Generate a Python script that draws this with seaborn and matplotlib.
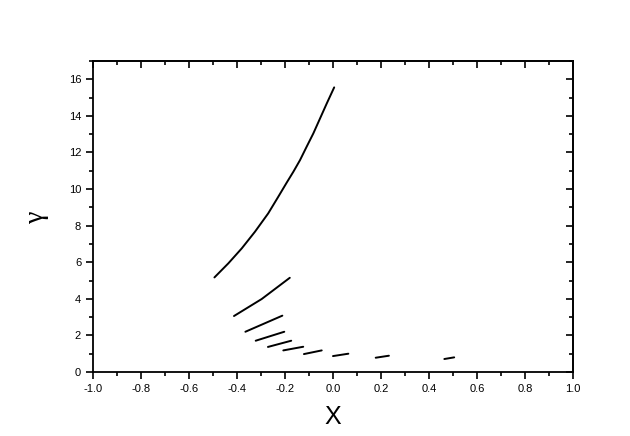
import matplotlib
matplotlib.use("Agg")
import matplotlib.pyplot as plt
import seaborn as sns
import pandas as pd
from matplotlib.ticker import MultipleLocator

sns.set_theme(style="white")
plt.rcParams['font.family'] = ['Liberation Sans', 'DejaVu Sans']

# Each segment: x values and gamma values
seg_x = [
    [-0.494, -0.436, -0.38, -0.325, -0.27, -0.228, -0.193, -0.165, -0.1375,
     -0.11, -0.082, -0.054, -0.026, 0.005],
    [-0.4125, -0.297, -0.18],
    [-0.365, -0.211],
    [-0.322, -0.203],
    [-0.271, -0.174],
    [-0.207, -0.124],
    [-0.121, -0.047],
    [0.0, 0.064],
    [0.178, 0.233],
    [0.464, 0.505],
]
seg_y = [
    [5.17, 5.94, 6.76, 7.67, 8.67, 9.58, 10.35, 10.95, 11.58,
     12.31, 13.04, 13.86, 14.68, 15.56],
    [3.06, 3.99, 5.15],
    [2.2, 3.08],
    [1.71, 2.2],
    [1.37, 1.71],
    [1.18, 1.38],
    [0.98, 1.18],
    [0.87, 1.0],
    [0.78, 0.89],
    [0.71, 0.80],
]

rows = []
for i, (xs, ys) in enumerate(zip(seg_x, seg_y)):
    for j, (x, y) in enumerate(zip(xs, ys)):
        rows.append({"seg": i, "order": j, "x": x, "y": y})
df = pd.DataFrame(rows)

fig = plt.figure(figsize=(6.3, 4.36), dpi=100)
ax = fig.add_axes([0.1476, 0.1468, 0.7619, 0.7132])

sns.lineplot(data=df, x="x", y="y", units="seg", estimator=None, sort=False,
             color="black", linewidth=1.4, ax=ax, legend=False)

ax.set_xlim(-1.0, 1.0)
ax.set_ylim(0, 17)
ax.xaxis.set_minor_locator(MultipleLocator(0.1))
ax.yaxis.set_minor_locator(MultipleLocator(1))
ax.set_xticks([-1.0, -0.8, -0.6, -0.4, -0.2, 0.0, 0.2, 0.4, 0.6, 0.8, 1.0])
ax.set_xticklabels(["-1.0", "-0.8", "-0.6", "-0.4", "-0.2", "0.0", "0.2", "0.4", "0.6", "0.8", "1.0"])
ax.set_yticks([0, 2, 4, 6, 8, 10, 12, 14, 16])

for s in ax.spines.values():
    s.set_linewidth(1.3)
    s.set_color("black")

ax.tick_params(which="both", direction="out", bottom=True, left=True, top=False, right=False,
               colors="black", labelcolor="black", labelsize=8, width=1.2)
ax.tick_params(which="major", length=5)
ax.tick_params(which="minor", length=3)

# mirrored inward ticks on top and right
axt = ax.secondary_xaxis("top")
axt.xaxis.set_major_locator(MultipleLocator(0.2))
axt.xaxis.set_minor_locator(MultipleLocator(0.1))
axt.tick_params(which="both", direction="in", labeltop=False, width=1.2, colors="black")
axt.tick_params(which="major", length=5)
axt.tick_params(which="minor", length=3)
axr = ax.secondary_yaxis("right")
axr.yaxis.set_major_locator(MultipleLocator(2))
axr.yaxis.set_minor_locator(MultipleLocator(1))
axr.tick_params(which="both", direction="in", labelright=False, width=1.2, colors="black")
axr.tick_params(which="major", length=5)
axr.tick_params(which="minor", length=3)
for sp in (axt.spines.values()):
    sp.set_linewidth(1.3)
for sp in (axr.spines.values()):
    sp.set_linewidth(1.3)

ax.set_xlabel("X", fontsize=18, labelpad=8, color="black")
ax.set_ylabel("γ", fontsize=20, labelpad=14, color="black",
              family=["Liberation Serif", "DejaVu Serif"])

fig.savefig("out.png", dpi=100, facecolor="white")
